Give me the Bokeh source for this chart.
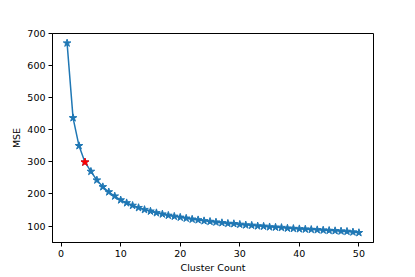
from bokeh.plotting import figure
from bokeh.models import Range1d, FixedTicker
from bokeh.embed import file_html
from bokeh.resources import INLINE

cluster_count = list(range(1, 51))
mse = [670, 437, 350, 299, 270, 243, 222, 206, 193, 181,
       172, 164, 157, 151, 146, 141, 137, 133, 130, 127,
       124, 121, 119, 116, 114, 112, 110, 108, 107, 105,
       103, 102, 100, 99, 97, 96, 95, 93, 92, 91,
       90, 89, 88, 87, 86, 85, 84, 83, 81, 79]
best_k = [4]
best_mse = [299]
x_ticks = [0, 10, 20, 30, 40, 50]
y_ticks = [100, 200, 300, 400, 500, 600, 700]

p = figure(frame_width=321, frame_height=209, output_backend="svg",
           toolbar_location=None,
           x_range=Range1d(-1.45, 52.45), y_range=Range1d(48.6, 700),
           min_border_left=52, min_border_top=33, min_border_right=40,
           min_border_bottom=33)
p.grid.visible = False
p.outline_line_color = "black"
p.outline_line_width = 1
p.background_fill_color = "white"
p.border_fill_color = "white"

p.line(cluster_count, mse, line_color="#1f77b4", line_width=1.5)
p.scatter(cluster_count, mse, marker="star", size=8, fill_color="#1f77b4",
          line_color="#1f77b4")
p.scatter(best_k, best_mse, marker="star", size=8, fill_color="red",
          line_color="red")

p.xaxis.ticker = FixedTicker(ticks=x_ticks)
p.yaxis.ticker = FixedTicker(ticks=y_ticks)
p.xaxis.axis_label = "Cluster Count"
p.yaxis.axis_label = "MSE"
for ax in (p.xaxis, p.yaxis):
    ax.minor_tick_line_color = None
    ax.major_tick_in = 0
    ax.major_tick_out = 4
    ax.major_label_standoff = 3
    ax.axis_label_standoff = 2
    ax.major_label_text_font = "DejaVu Sans"
    ax.axis_label_text_font = "DejaVu Sans"
    ax.major_label_text_font_size = "9.5px"
    ax.axis_label_text_font_size = "9.5px"
    ax.axis_label_text_font_style = "normal"
    ax.major_label_text_color = "black"
    ax.axis_label_text_color = "black"
    ax.axis_line_color = "black"
    ax.major_tick_line_color = "black"

open("out.html", "w").write(file_html(p, INLINE))
